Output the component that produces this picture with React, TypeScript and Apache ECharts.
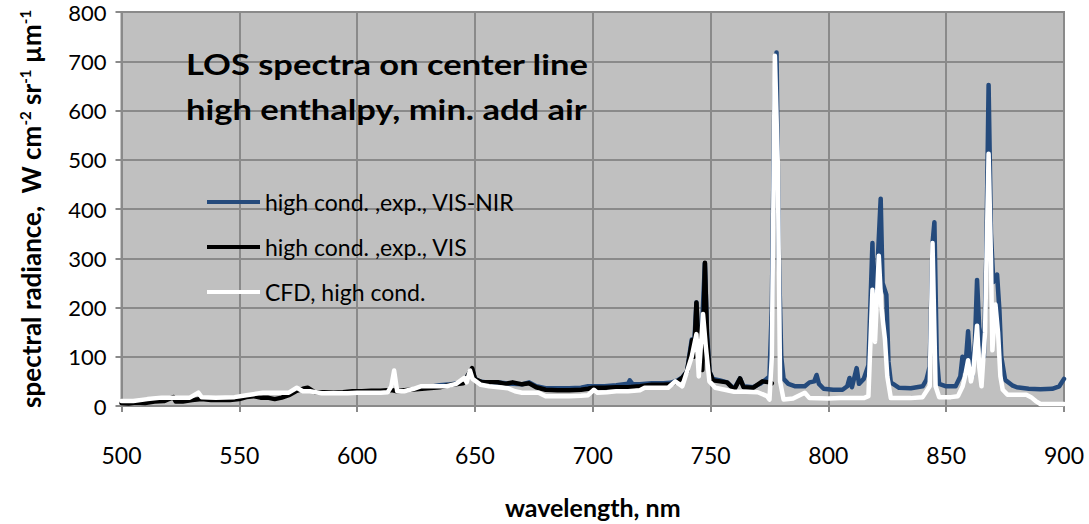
import React, { useEffect, useRef } from "react";
import * as echarts from "echarts";

// ---------- data ----------
const xTicks = [500, 550, 600, 650, 700, 750, 800, 850, 900];
const yTicks = [0, 100, 200, 300, 400, 500, 600, 700, 800];

const titleLines = ["LOS spectra on center line", "high enthalpy, min. add air"];
const seriesNames = ["high cond. ,exp., VIS-NIR", "high cond. ,exp., VIS", "CFD, high cond."];

const visNirWavelength = [
  630, 635, 640, 645, 648.8, 650, 652, 655, 658, 660, 663, 666, 670, 673, 676, 680, 685, 690, 695, 698,
  700, 705, 710, 715, 715.7, 717, 720, 725, 730, 733, 736, 738, 740, 742, 743, 744, 745, 746, 747.6, 748.5,
  749.5, 751, 754, 757, 760, 762.5, 764, 768, 771, 773, 775, 776, 777, 778, 779, 780, 781, 783, 786, 790,
  792, 794, 795, 796, 798, 802, 806, 808, 809, 810, 812, 813, 815, 817, 818.7, 819.5, 820.5, 822.2, 823, 824.6,
  825.5, 826.5, 830, 835, 840, 841.6, 843, 844.2, 845, 846, 847, 850, 854, 856, 856.9, 858, 859.3, 860.3, 861, 862.2,
  863.1, 864, 865, 866, 867, 868, 869, 870, 871.6, 872.6, 873.4, 875, 878, 880, 885, 890, 895, 898, 900,
];
const visNirValue = [
  38, 42, 44, 48, 75, 55, 50, 48, 47, 48, 46, 45, 44, 48, 40, 36, 36, 36, 37, 40,
  40, 40, 42, 45, 52, 44, 44, 46, 46, 47, 52, 58, 70, 135, 120, 210, 110, 120, 290, 150,
  70, 55, 52, 48, 35, 56, 40, 38, 45, 52, 60, 200, 600, 718, 300, 100, 55, 45, 40, 40,
  48, 50, 63, 45, 35, 33, 33, 40, 57, 38, 77, 45, 55, 83, 331, 150, 250, 421, 250, 226,
  90, 48, 37, 36, 40, 53, 80, 330, 373, 100, 45, 40, 40, 60, 100, 70, 152, 80, 60, 130,
  256, 160, 133, 100, 300, 652, 350, 252, 267, 193, 100, 53, 42, 38, 35, 34, 35, 40, 55,
];

const visWavelength = [
  500, 503, 506, 510, 514, 518, 522, 523, 526, 530, 534, 538, 542, 546, 550, 553, 556, 559, 562, 565,
  568, 571, 574, 577, 579, 582, 586, 590, 594, 598, 602, 606, 610, 613, 615, 617, 620, 625, 630, 635,
  640, 645, 648.8, 650, 653, 657, 660, 663, 666, 670, 673, 676, 680, 685, 690, 695, 698, 700, 705, 710,
  715, 720, 725, 730, 733, 736, 738, 740, 742.2, 743, 744, 745, 746.5, 747.6, 748.5, 749.5, 751, 754, 757, 760,
  762.5, 764, 768, 772, 775, 776,
];
const visValue = [
  6, 5, 7, 6, 9, 10, 18, 9, 9, 12, 14, 12, 12, 12, 14, 18, 20, 17, 17, 14,
  17, 22, 30, 35, 37, 28, 28, 27, 28, 30, 30, 31, 31, 32, 32, 30, 32, 34, 36, 38,
  43, 46, 77, 55, 48, 48, 48, 45, 48, 44, 46, 38, 33, 32, 32, 33, 35, 37, 37, 38,
  38, 40, 43, 43, 44, 50, 57, 70, 134, 100, 210, 110, 73, 291, 140, 70, 52, 50, 48, 33,
  56, 38, 37, 50, 48, 46,
];

const cfdWavelength = [
  500, 505, 511, 517, 523, 529, 532.6, 534, 540, 548, 553, 556, 560, 566, 571, 574.4, 577, 580, 585, 590,
  596, 600, 605, 610, 613, 614.5, 615.7, 617, 620, 624, 627, 633, 638, 642, 645.5, 646.5, 647.9, 649, 652.5, 656,
  660, 664, 667, 670, 674, 677, 680, 685, 690, 695, 698, 700.5, 702, 706, 710, 715, 720, 722, 727, 732,
  735, 738, 740, 742, 744, 745, 746.8, 748, 749.5, 752, 756, 760, 765, 770, 774, 775, 776, 777.3, 778.5, 779.5,
  781, 785, 790, 792, 800, 805, 810, 815, 817, 818.7, 819.8, 821.4, 822.5, 824, 825, 826.5, 830, 835, 840, 843,
  844.2, 845.5, 847, 852, 855, 857, 858, 859.3, 860.5, 861.5, 863.1, 864, 865, 866.5, 868, 869, 869.6, 870.9, 872, 873,
  874, 876, 880, 884, 886, 888, 890, 895, 900,
];
const cfdValue = [
  10, 10, 14, 17, 17, 17, 27, 18, 17, 18, 22, 24, 27, 27, 27, 37, 30, 30, 26, 26,
  26, 27, 27, 27, 28, 40, 72, 30, 30, 35, 40, 40, 40, 45, 57, 48, 72, 55, 43, 40,
  38, 36, 30, 27, 27, 27, 20, 20, 20, 21, 22, 33, 27, 28, 30, 30, 32, 37, 37, 37,
  50, 40, 70, 100, 146, 60, 187, 120, 50, 37, 33, 29, 29, 28, 20, 13, 100, 711, 500, 50,
  13, 15, 27, 16, 15, 16, 16, 16, 20, 236, 130, 305, 200, 136, 60, 16, 16, 16, 18, 40,
  331, 40, 18, 18, 20, 40, 60, 93, 50, 70, 163, 80, 40, 150, 512, 300, 113, 206, 150, 60,
  33, 23, 23, 23, 18, 10, 4, 4, 4,
];

const seriesColors = ["#244a7c", "#000000", "#ffffff"];

const zip = (xs: number[], ys: number[]) => xs.map((x, i) => [x, ys[i]]);

const FONT = "Lato";

export default function App() {
  const ref = useRef<HTMLDivElement>(null);

  useEffect(() => {
    if (!ref.current) return;
    const chart = echarts.init(ref.current, undefined, { renderer: "svg" });
    const datas = [
      zip(visNirWavelength, visNirValue),
      zip(visWavelength, visValue),
      zip(cfdWavelength, cfdValue),
    ];
    chart.setOption({
      animation: false,
      backgroundColor: "#ffffff",
      textStyle: { fontFamily: FONT },
      graphic: titleLines.map((t, i) => ({
        type: "text",
        x: 186,
        y: 64 + i * 45,
        scaleX: 1.19,
        z: 100,
        style: {
          text: t,
          fill: "#000",
          font: `bold 29px ${FONT}`,
          textAlign: "left",
          textVerticalAlign: "middle",
        },
      })),
      legend: {
        orient: "vertical",
        left: 207,
        top: 189,
        padding: 0,
        itemWidth: 53,
        itemHeight: 4,
        itemGap: 19,
        icon: "rect",
        data: seriesNames,
        textStyle: { fontFamily: FONT, fontSize: 23, color: "#000", lineHeight: 26 },
      },
      grid: {
        left: 121.5,
        right: 25,
        top: 12,
        bottom: 110.5,
        show: true,
        backgroundColor: "#c0c0c0",
        borderColor: "#8a8a8a",
        borderWidth: 2,
      },
      xAxis: {
        type: "value",
        min: xTicks[0],
        max: xTicks[xTicks.length - 1],
        interval: 50,
        name: "wavelength, nm",
        nameLocation: "middle",
        nameGap: 88,
        nameTextStyle: { fontFamily: FONT, fontSize: 25, fontWeight: "bold", color: "#000" },
        axisLine: { show: true, lineStyle: { color: "#8a8a8a", width: 2 } },
        axisTick: { show: true, inside: false, length: 6, lineStyle: { color: "#8a8a8a", width: 2 } },
        splitLine: { show: true, lineStyle: { color: "#8a8a8a", width: 2 } },
        axisLabel: { fontFamily: FONT, fontSize: 23, color: "#000", margin: 37 },
      },
      yAxis: {
        type: "value",
        min: yTicks[0],
        max: yTicks[yTicks.length - 1],
        interval: 100,
        name: "{b|spectral radiance,  W cm}{s|-2}{b| sr}{s|-1}{b| µm}{s|-1}",
        nameLocation: "middle",
        nameGap: 77,
        nameRotate: 90,
        nameTextStyle: {
          fontFamily: FONT,
          rich: {
            b: { fontFamily: FONT, fontSize: 26, fontWeight: "bold", color: "#000" },
            s: { fontFamily: FONT, fontSize: 15, fontWeight: "bold", color: "#000", verticalAlign: "top", padding: [0, 0, 12, 0] },
          },
        },
        axisLine: { show: true, lineStyle: { color: "#8a8a8a", width: 2 } },
        axisTick: { show: true, inside: false, length: 6, lineStyle: { color: "#8a8a8a", width: 2 } },
        splitLine: { show: true, lineStyle: { color: "#8a8a8a", width: 2 } },
        axisLabel: { fontFamily: FONT, fontSize: 22, color: "#000", margin: 15 },
      },
      series: seriesNames.map((name, i) => ({
        name,
        type: "line",
        data: datas[i],
        showSymbol: false,
        symbol: "none",
        color: seriesColors[i],
        lineStyle: { color: seriesColors[i], width: 4.5, join: "round", cap: "round" },
        z: 2 + i,
      })),
    });
    return () => chart.dispose();
  }, []);

  return (
    <div
      ref={ref}
      style={{ position: "absolute", left: 0, top: 0, width: 1089, height: 524 }}
    />
  );
}
